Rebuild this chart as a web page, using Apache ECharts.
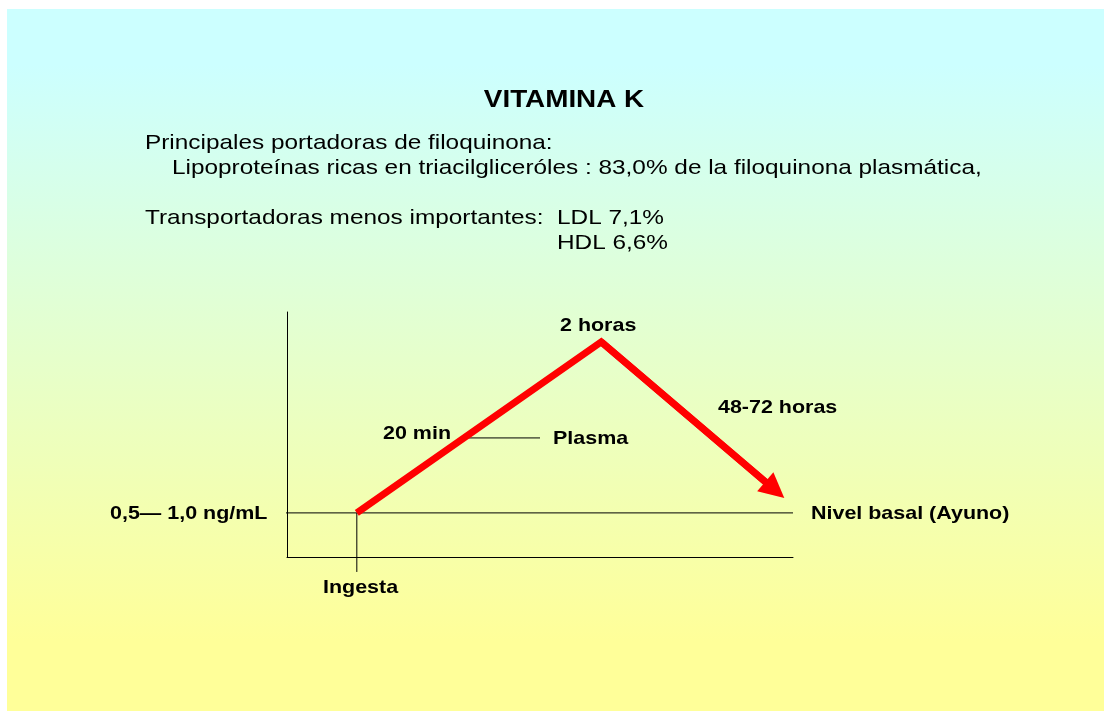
<!DOCTYPE html>
<html><head><meta charset="utf-8">
<script src="https://cdn.jsdelivr.net/npm/echarts@6/dist/echarts.min.js"></script>
<style>html,body{margin:0;padding:0;background:#fff}#c{width:1104px;height:712px}</style>
</head><body><div id="c"></div>
<script>
// Diagram values (data units: x 0..100 along the time axis, y 0..100 concentration)
const curveX = [13.8, 62.1, 96.4];   // Ingesta, 2 horas (peak), return toward basal (arrow)
const curveY = [18.0, 87.8, 27.4];
const basalX = [-1.8, 100];
const basalY = [18.0, 18.0];
const ingestaX = [13.8, 13.8];
const ingestaY = [18.0, -6.1];
const plasmaX = [34.6, 50.0];
const plasmaY = [48.6, 48.6];

const titleText = 'VITAMINA K';
const bodyLines = [
  'Principales portadoras de filoquinona:',
  'Lipoproteínas ricas en triacilgliceróles : 83,0% de la filoquinona plasmática,',
  'Transportadoras menos importantes:  LDL 7,1%',
  'HDL 6,6%'
];
const diagramLabels = ['2 horas', '48-72 horas', '20 min', 'Plasma', '0,5\u2014 1,0 ng/mL', 'Nivel basal (Ayuno)', 'Ingesta'];

const FONT = '"Liberation Sans", Arial, sans-serif';
const SX = 1.16;

function pts(xs, ys) { return xs.map((x, i) => [x, ys[i]]); }

function txt(text, x, y, size, bold, align) {
  return {
    type: 'text', x: x, y: y, scaleX: SX, z: 10,
    style: {
      text: text, fill: '#000', font: (bold ? 'bold ' : '') + size + 'px ' + FONT,
      textAlign: align || 'left', textVerticalAlign: 'middle'
    }
  };
}

const chart = echarts.init(document.getElementById('c'), null, {renderer: 'canvas'});
const curve = pts(curveX, curveY);

const option = {
  backgroundColor: '#ffffff',
  animation: false,
  grid: {left: 287, top: 312, width: 506, height: 245, containLabel: false},
  xAxis: {
    type: 'value', min: 0, max: 100,
    axisLine: {show: true, onZero: false, lineStyle: {color: '#000', width: 1}},
    axisTick: {show: false}, axisLabel: {show: false}, splitLine: {show: false}
  },
  yAxis: {
    type: 'value', min: 0, max: 100,
    axisLine: {show: true, onZero: false, lineStyle: {color: '#000', width: 1}},
    axisTick: {show: false}, axisLabel: {show: false}, splitLine: {show: false}
  },
  graphic: [
    {
      type: 'rect', z: -10, silent: true,
      shape: {x: 7, y: 9, width: 1097, height: 702},
      style: {
        fill: new echarts.graphic.LinearGradient(0, 0, 0, 1, [
          {offset: 0.08, color: '#CCFFFF'},
          {offset: 0.9, color: '#FFFF99'}
        ])
      }
    },
    txt(titleText, 564, 100, 24, true, 'center'),
    txt(bodyLines[0], 145, 143, 21, false),
    txt(bodyLines[1], 172, 168, 21, false),
    txt(bodyLines[2], 145, 218, 21, false),
    txt(bodyLines[3], 557, 243, 21, false),
    txt(diagramLabels[0], 560, 326, 18.5, true),
    txt(diagramLabels[1], 718, 408, 18.5, true),
    txt(diagramLabels[2], 383, 434, 18.5, true),
    txt(diagramLabels[3], 553, 439, 18.5, true),
    txt(diagramLabels[4], 110, 514, 18.5, true),
    txt(diagramLabels[5], 811, 514, 18.5, true),
    txt(diagramLabels[6], 323, 588, 18.5, true)
  ],
  series: [
    {
      type: 'line', data: pts(basalX, basalY), symbol: 'none', clip: false, silent: true,
      lineStyle: {color: '#000', width: 1}, z: 2
    },
    {
      type: 'line', data: pts(ingestaX, ingestaY), symbol: 'none', clip: false, silent: true,
      lineStyle: {color: '#000', width: 1}, z: 2
    },
    {
      type: 'line', data: pts(plasmaX, plasmaY), symbol: 'none', clip: false, silent: true,
      lineStyle: {color: '#000', width: 1}, z: 2
    },
    {
      type: 'line', data: curve, symbol: 'none', clip: false, silent: true,
      lineStyle: {color: '#FF0000', width: 7, join: 'miter', cap: 'butt'}, z: 5
    },
    {
      type: 'lines', coordinateSystem: 'cartesian2d', silent: true, z: 6,
      symbol: ['none', 'triangle'], symbolSize: [24, 25],
      lineStyle: {color: '#FF0000', width: 7, opacity: 1, curveness: 0},
      data: [{coords: [curve[1], curve[2]]}]
    }
  ]
};
chart.setOption(option);
</script></body></html>
